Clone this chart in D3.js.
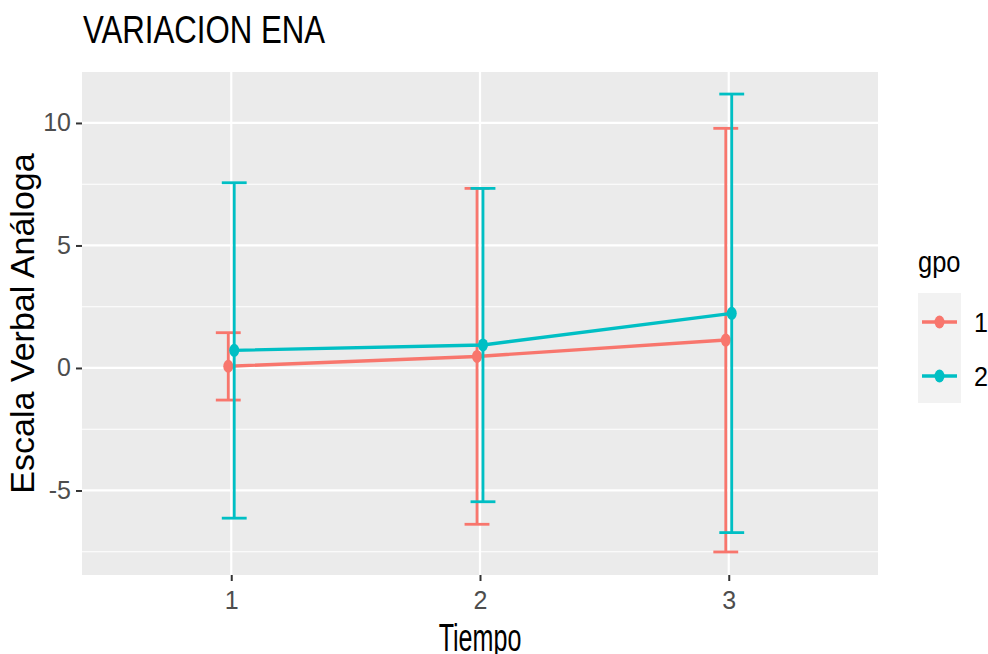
<!DOCTYPE html>
<html>
<head>
<meta charset="utf-8">
<script src="https://cdn.jsdelivr.net/npm/d3@7"></script>
<style>
  body { margin: 0; background: #fff; }
  text { font-family: "Liberation Sans", Arial, sans-serif; }
</style>
</head>
<body>
<script>
'use strict';

// data
let times = [1, 2, 3];
let groups = ['1', '2'];
let colors = ['#F8766D', '#00BFC4'];

let mean1 = [0.07, 0.47, 1.14];
let upper1 = [1.44, 7.33, 9.78];
let lower1 = [-1.31, -6.38, -7.51];

let mean2 = [0.72, 0.94, 2.23];
let upper2 = [7.56, 7.33, 11.18];
let lower2 = [-6.13, -5.46, -6.72];

let yTicks = [-5, 0, 5, 10];
let yMinor = [-7.5, -2.5, 2.5, 7.5];

let width = 988;
let height = 654;

let panel = { left: 82, right: 878, top: 72, bottom: 575 };

let x = d3.scaleLinear().domain([0.4, 3.6]).range([panel.left, panel.right]);
let y = d3.scaleLinear().domain([-8.45, 12.08]).range([panel.bottom, panel.top]);

let dodge = [-0.012, 0.012];
let capW = 0.05;

let series = [
  { mean: mean1, upper: upper1, lower: lower1 },
  { mean: mean2, upper: upper2, lower: lower2 }
];

let svg = d3.select('body').append('svg')
    .attr('width', width)
    .attr('height', height);

// panel background
svg.append('rect')
    .attr('x', panel.left)
    .attr('y', panel.top)
    .attr('width', panel.right - panel.left)
    .attr('height', panel.bottom - panel.top)
    .attr('fill', '#EBEBEB');

// grid
svg.append('g').selectAll('line')
  .data(yMinor)
  .enter().append('line')
    .attr('x1', panel.left).attr('x2', panel.right)
    .attr('y1', d => y(d)).attr('y2', d => y(d))
    .attr('stroke', '#fff').attr('stroke-width', 1.1);

svg.append('g').selectAll('line')
  .data(yTicks)
  .enter().append('line')
    .attr('x1', panel.left).attr('x2', panel.right)
    .attr('y1', d => y(d)).attr('y2', d => y(d))
    .attr('stroke', '#fff').attr('stroke-width', 2.2);

svg.append('g').selectAll('line')
  .data(times)
  .enter().append('line')
    .attr('x1', d => x(d)).attr('x2', d => x(d))
    .attr('y1', panel.top).attr('y2', panel.bottom)
    .attr('stroke', '#fff').attr('stroke-width', 2.2);

// axes
let yAxis = svg.append('g')
    .attr('transform', `translate(${panel.left},0)`)
    .call(d3.axisLeft(y).tickValues(yTicks).tickSize(6).tickPadding(5)
      .tickFormat(d => String(d)));

let xAxis = svg.append('g')
    .attr('transform', `translate(0,${panel.bottom})`)
    .call(d3.axisBottom(x).tickValues(times).tickSize(6).tickPadding(4)
      .tickFormat(d => String(d)));

[yAxis, xAxis].forEach(a => {
  a.select('.domain').remove();
  a.selectAll('.tick line').attr('stroke', '#333333').attr('stroke-width', 2);
  a.selectAll('.tick text')
      .attr('fill', '#4D4D4D')
      .style('font-size', '25px');
});
xAxis.selectAll('.tick text').attr('dy', '0.95em');

// error bars, lines, points
series.forEach((s, g) => {
  let col = colors[g];
  let layer = svg.append('g');
  let pts = times.map((t, i) => ({ t: t + dodge[g], m: s.mean[i], u: s.upper[i], l: s.lower[i] }));

  let bars = layer.selectAll('g.bar')
    .data(pts)
    .enter().append('g').attr('class', 'bar');

  bars.append('line')
      .attr('x1', d => x(d.t)).attr('x2', d => x(d.t))
      .attr('y1', d => y(d.u)).attr('y2', d => y(d.l))
      .attr('stroke', col).attr('stroke-width', 2.8);
  bars.append('line')
      .attr('x1', d => x(d.t - capW)).attr('x2', d => x(d.t + capW))
      .attr('y1', d => y(d.u)).attr('y2', d => y(d.u))
      .attr('stroke', col).attr('stroke-width', 2.8);
  bars.append('line')
      .attr('x1', d => x(d.t - capW)).attr('x2', d => x(d.t + capW))
      .attr('y1', d => y(d.l)).attr('y2', d => y(d.l))
      .attr('stroke', col).attr('stroke-width', 2.8);

  layer.append('path')
      .datum(pts)
      .attr('fill', 'none')
      .attr('stroke', col)
      .attr('stroke-width', 3.4)
      .attr('d', d3.line().x(d => x(d.t)).y(d => y(d.m)));

  layer.selectAll('ellipse')
    .data(pts)
    .enter().append('ellipse')
      .attr('cx', d => x(d.t))
      .attr('cy', d => y(d.m))
      .attr('rx', 5).attr('ry', 6.5)
      .attr('fill', col);
});

// titles
svg.append('text')
    .attr('transform', 'translate(83,43) scale(0.8,1)')
    .style('font-size', '39px')
    .text('VARIACION ENA');

svg.append('text')
    .attr('transform', `translate(${(panel.left + panel.right) / 2},651) scale(0.66,1)`)
    .attr('text-anchor', 'middle')
    .style('font-size', '38px')
    .text('Tiempo');

svg.append('text')
    .attr('transform', `translate(34,${(panel.top + panel.bottom) / 2}) rotate(-90)`)
    .attr('text-anchor', 'middle')
    .style('font-size', '34px')
    .text('Escala Verbal Análoga');

// legend
let legend = svg.append('g');
legend.append('text')
    .attr('transform', 'translate(918,272) scale(0.85,1)')
    .style('font-size', '30px')
    .text('gpo');

legend.append('rect')
    .attr('x', 918).attr('y', 293)
    .attr('width', 43).attr('height', 110)
    .attr('fill', '#F2F2F2');

let keyY = d3.scalePoint().domain(groups).range([322, 376]);

let keys = legend.selectAll('g.key')
  .data(groups)
  .enter().append('g').attr('class', 'key');

keys.append('line')
    .attr('x1', 922).attr('x2', 957)
    .attr('y1', d => keyY(d)).attr('y2', d => keyY(d))
    .attr('stroke', (d, i) => colors[i]).attr('stroke-width', 3.4);
keys.append('ellipse')
    .attr('cx', 939.5).attr('cy', d => keyY(d))
    .attr('rx', 5).attr('ry', 6.5)
    .attr('fill', (d, i) => colors[i]);
keys.append('text')
    .attr('transform', d => `translate(974,${keyY(d)}) scale(0.9,1)`)
    .attr('dy', '0.36em')
    .style('font-size', '28px')
    .text(d => d);
</script>
</body>
</html>
